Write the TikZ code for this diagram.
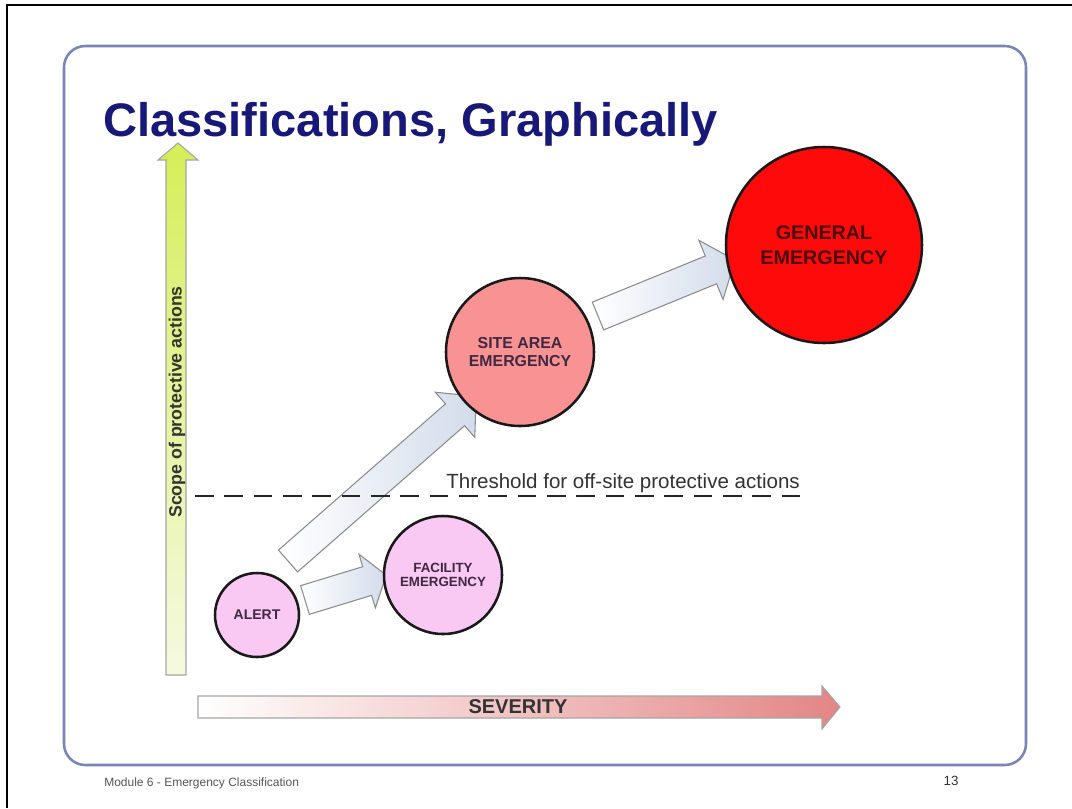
\documentclass[tikz,border=0pt]{standalone}
\usepackage{fontspec}
\setmainfont{Liberation Sans}
\usetikzlibrary{calc}
\definecolor{navy}{HTML}{181878}
\definecolor{framec}{HTML}{7B84B6}
\definecolor{pinkc}{HTML}{F9C8F3}
\definecolor{salmonc}{HTML}{F99393}
\definecolor{redc}{HTML}{FF0A0A}
\definecolor{pinktext}{HTML}{402840}
\definecolor{redtext}{HTML}{4A0C0C}
\definecolor{arrowblue}{HTML}{D3DCEB}
\definecolor{yellowgreen}{HTML}{D6EE58}
\definecolor{paleyellow}{HTML}{F6F9E2}
\definecolor{sevred}{HTML}{E38585}
\definecolor{darkgray}{HTML}{333333}
\definecolor{footgray}{HTML}{555555}
\tikzset{
  stage/.style={circle, draw=black!90, line width=1.9pt, inner sep=0pt, align=center},
  blockarrow/.style={draw=black!45, line width=0.8pt, left color=white, right color=arrowblue},
  axisarrow/.style={draw=black!35, line width=0.8pt},
}
\begin{document}
\begin{tikzpicture}[x=0.75pt,y=-0.75pt]
\useasboundingbox (0,0) rectangle (1072,808);
\fill[white] (0,0) rectangle (1072,808);
% outer border
\draw[line width=1.9pt] (7,808) -- (7,5) -- (1072,5);
% slide frame
\draw[framec, line width=1.9pt, rounded corners=16pt] (64,46) rectangle (1026,765);
% title
\node[anchor=base west, inner sep=0pt, text=navy, font=\fontsize{35.3}{40}\bfseries\selectfont] (title) at (103,136) {Classifications, Graphically};
% vertical axis arrow
\path[axisarrow, top color=yellowgreen, bottom color=paleyellow]
  (166,675) -- (166,160) -- (158,160) -- (178,143) -- (198,160) -- (186,160) -- (186,675) -- cycle;
\node[rotate=90, inner sep=0pt, text=darkgray, font=\fontsize{13.3}{15}\bfseries\selectfont] (scope) at (177,402) {Scope of protective actions};
% horizontal axis arrow
\path[axisarrow, left color=white, middle color=sevred!28, right color=sevred]
  (198,696) -- (822,696) -- (822,686) -- (840,707) -- (822,729) -- (822,718) -- (198,718) -- cycle;
\node[inner sep=0pt, text=darkgray, font=\fontsize{15}{17}\bfseries\selectfont] (sev) at (518,707) {SEVERITY};
% connector coordinates
\coordinate (aT) at (305,600);
\coordinate (bT) at (288,561);
\coordinate (cT) at (598,316);
% block arrows
\begin{scope}[shift={(aT)}, rotate=17]
\path[blockarrow] (0,-15) -- (65,-15) -- (65,-28) -- (85,0) -- (65,28) -- (65,15) -- (0,15) -- cycle;
\end{scope}
\begin{scope}[shift={(bT)}, rotate=41.2]
\path[blockarrow] (0,-14.5) -- (222,-14.5) -- (222,-30) -- (250,0) -- (222,30) -- (222,14.5) -- (0,14.5) -- cycle;
\end{scope}
\begin{scope}[shift={(cT)}, rotate=22.2]
\path[blockarrow] (0,-15) -- (122,-15) -- (122,-32) -- (148,0) -- (122,32) -- (122,15) -- (0,15) -- cycle;
\end{scope}
% threshold
\draw[line width=1.6pt, dash pattern=on 14pt off 8pt, black!85] (195,496) -- (805,496);
\node[anchor=base east, inner sep=0pt, text=darkgray, font=\fontsize{15.4}{17}\selectfont] (thr) at (800,488) {Threshold for off-site protective actions};
% stages
\node[stage, fill=pinkc, minimum size=63pt, text=pinktext, font=\fontsize{10.5}{11}\bfseries\selectfont] (alert) at (257,615) {ALERT};
\node[stage, fill=pinkc, minimum size=88.5pt, text=pinktext, font=\fontsize{10}{10.5}\bfseries\selectfont] (facility) at (443,575) {FACILITY\\EMERGENCY};
\node[stage, fill=salmonc, minimum size=111pt, text=pinktext, font=\fontsize{11.9}{13.5}\bfseries\selectfont] (site) at (520,352) {SITE AREA\\EMERGENCY};
\node[stage, fill=redc, minimum size=147pt, text=redtext, font=\fontsize{14.8}{18.7}\bfseries\selectfont] (general) at (824,245) {GENERAL\\EMERGENCY};
% footer
\node[anchor=west, inner sep=0pt, text=footgray, font=\fontsize{9}{10}\selectfont] (foot) at (104,783) {Module 6 - Emergency Classification};
\node[inner sep=0pt, text=darkgray, font=\fontsize{10}{11}\selectfont] (page) at (951,781) {13};
\end{tikzpicture}
\end{document}
